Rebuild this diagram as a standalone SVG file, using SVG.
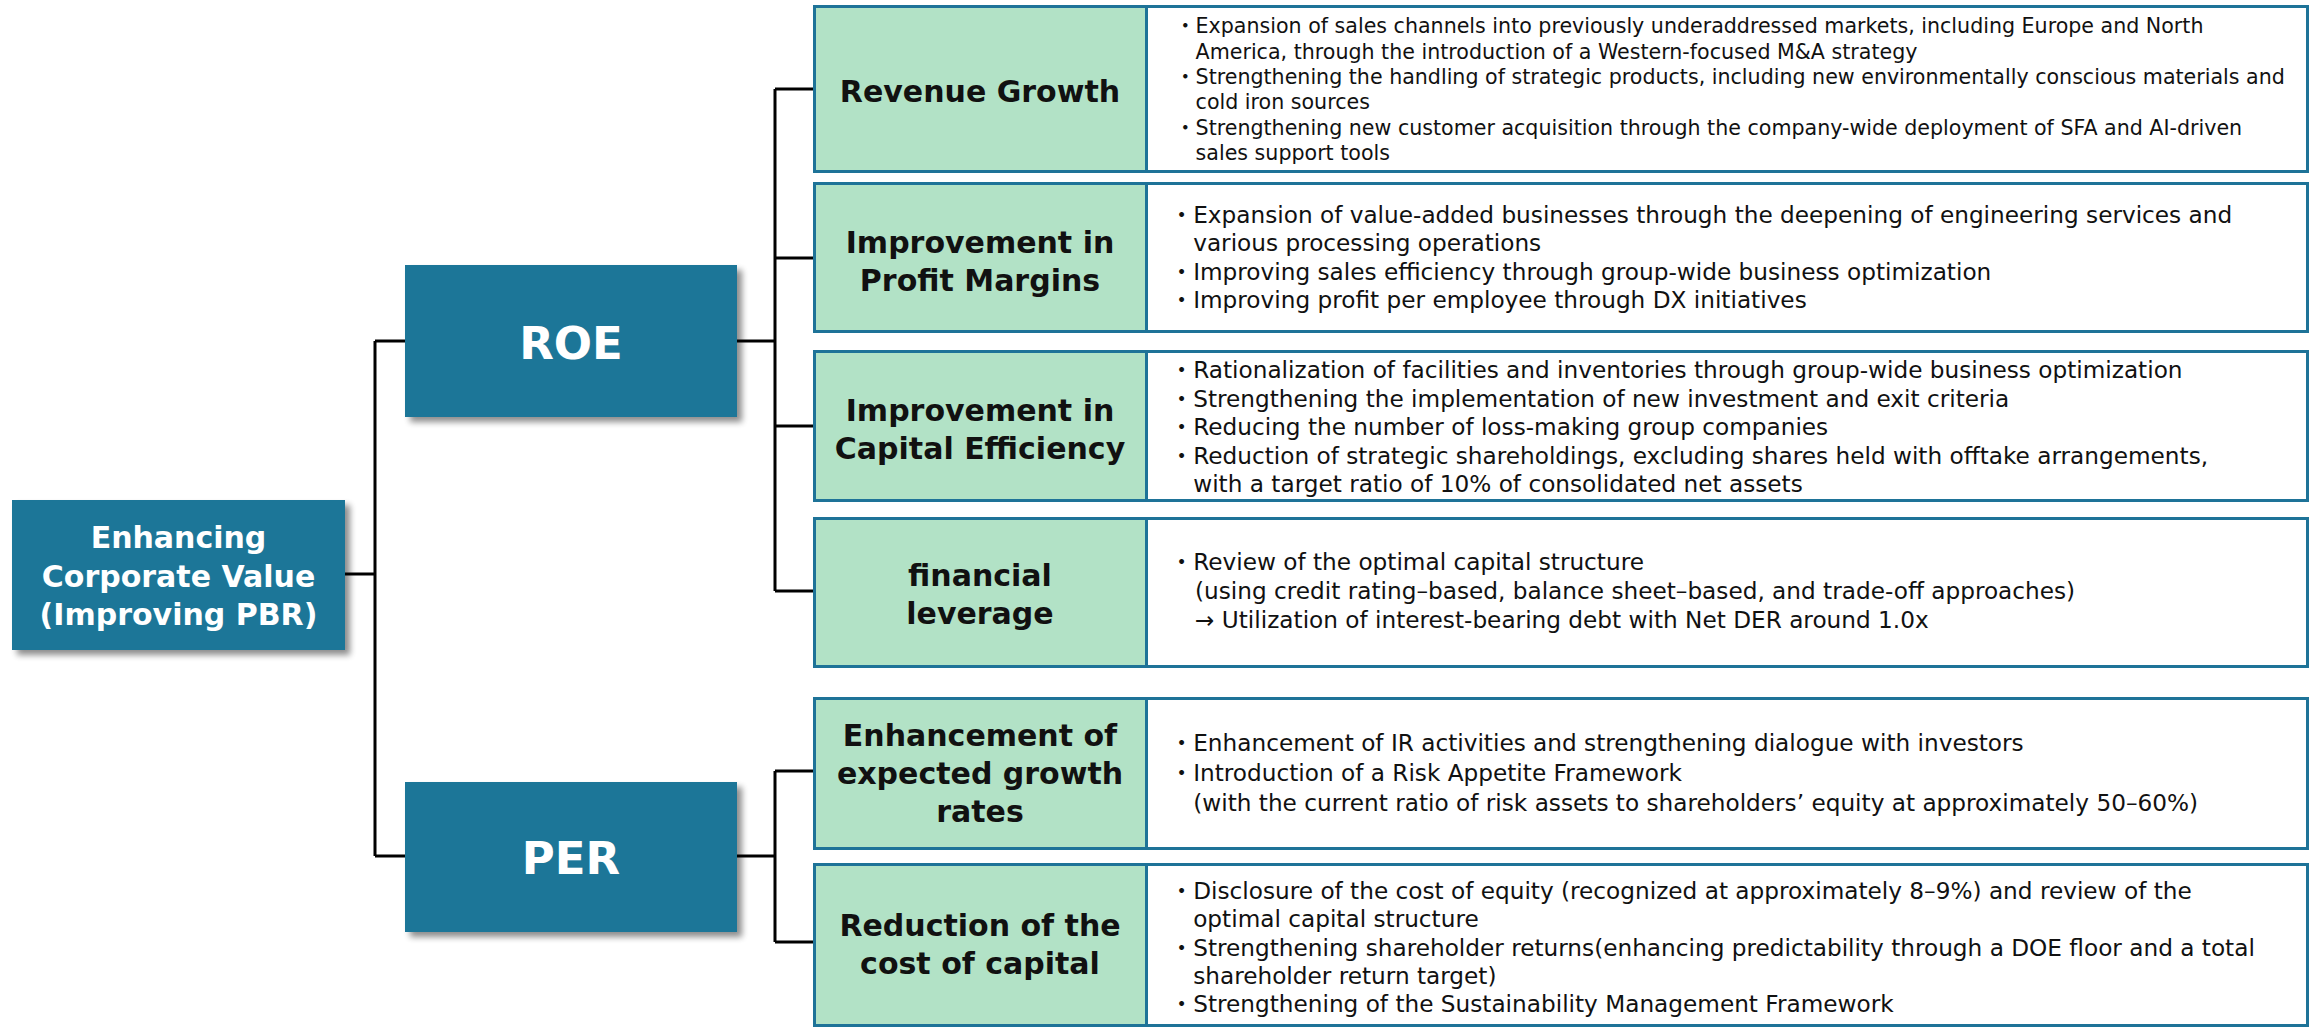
<svg xmlns="http://www.w3.org/2000/svg" width="2313" height="1029" viewBox="0 0 2313 1029">
<style>
.blue{fill:#1d7698}
.row{fill:#ffffff;stroke:#1e7398;stroke-width:3}
.cell{fill:#b2e2c6}
.div{stroke:#1e7398;stroke-width:3}
.conn{stroke:#000;stroke-width:3;fill:none}
.wt{font-family:"DejaVu Sans","Noto Sans",sans-serif;font-weight:bold;fill:#fff;text-anchor:middle}
.lb{font-family:"DejaVu Sans","Noto Sans",sans-serif;font-weight:bold;font-size:30px;fill:#111;text-anchor:middle}
.ds{font-family:"DejaVu Sans","Noto Sans CJK JP",sans-serif;font-size:23.2px;fill:#111}
.ds2{font-family:"DejaVu Sans","Noto Sans CJK JP",sans-serif;font-size:20.6px;fill:#111}
</style>
<defs>
<filter id="sh" x="-10%" y="-10%" width="130%" height="130%">
<feGaussianBlur in="SourceAlpha" stdDeviation="3"/>
<feOffset dx="5" dy="5" result="b"/>
<feComponentTransfer><feFuncA type="linear" slope="0.45"/></feComponentTransfer>
<feMerge><feMergeNode/><feMergeNode in="SourceGraphic"/></feMerge>
</filter>
</defs>
<rect width="2313" height="1029" fill="#fff"/>

<g id="connectors" class="conn">
<path d="M345 574H375M375 341V856M375 341H405M375 856H405"/>
<path d="M737 341H775M775 89V591M775 89H813M775 258H813M775 426H813M775 591H813"/>
<path d="M737 856H775M775 771V942M775 771H813M775 942H813"/>
</g>

<g id="n-enhancing">
<rect class="blue" x="12" y="500" width="333" height="150" filter="url(#sh)"/>
<text class="wt" font-size="30" x="178.5" y="548">Enhancing</text>
<text class="wt" font-size="30" x="178.5" y="587">Corporate Value</text>
<text class="wt" font-size="30" x="178.5" y="625">(Improving PBR)</text>
</g>
<g id="n-roe">
<rect class="blue" x="405" y="265" width="332" height="152" filter="url(#sh)"/>
<text class="wt" font-size="45" x="571" y="359">ROE</text>
</g>
<g id="n-per">
<rect class="blue" x="405" y="782" width="332" height="150" filter="url(#sh)"/>
<text class="wt" font-size="45" x="571" y="874">PER</text>
</g>

<g id="n-revenue">
<rect class="row" x="814.5" y="6.5" width="1493" height="165"/>
<rect class="cell" x="816" y="8" width="330" height="162"/>
<line class="div" x1="1146.5" y1="6.5" x2="1146.5" y2="171.5"/>
<text class="lb" x="980" y="102">Revenue Growth</text>
<text class="ds2" x="1175" y="33">・Expansion of sales channels into previously underaddressed markets, including Europe and North</text>
<text class="ds2" x="1195.6" y="58.5">America, through the introduction of a Western-focused M&amp;A strategy</text>
<text class="ds2" x="1175" y="84">・Strengthening the handling of strategic products, including new environmentally conscious materials and</text>
<text class="ds2" x="1195.6" y="109">cold iron sources</text>
<text class="ds2" x="1175" y="134.5">・Strengthening new customer acquisition through the company-wide deployment of SFA and AI-driven</text>
<text class="ds2" x="1195.6" y="160">sales support tools</text>
</g>

<g id="n-profit">
<rect class="row" x="814.5" y="183.5" width="1493" height="148"/>
<rect class="cell" x="816" y="185" width="330" height="145"/>
<line class="div" x1="1146.5" y1="183.5" x2="1146.5" y2="331.5"/>
<text class="lb" x="980" y="253">Improvement in</text>
<text class="lb" x="980" y="291">Profit Margins</text>
<text class="ds" x="1170" y="223">・Expansion of value-added businesses through the deepening of engineering services and</text>
<text class="ds" x="1193.2" y="251">various processing operations</text>
<text class="ds" x="1170" y="280">・Improving sales efficiency through group-wide business optimization</text>
<text class="ds" x="1170" y="308">・Improving profit per employee through DX initiatives</text>
</g>

<g id="n-capital">
<rect class="row" x="814.5" y="351.5" width="1493" height="149"/>
<rect class="cell" x="816" y="353" width="330" height="146"/>
<line class="div" x1="1146.5" y1="351.5" x2="1146.5" y2="500.5"/>
<text class="lb" x="980" y="421">Improvement in</text>
<text class="lb" x="980" y="459">Capital Efficiency</text>
<text class="ds" x="1170" y="378">・Rationalization of facilities and inventories through group-wide business optimization</text>
<text class="ds" x="1170" y="407">・Strengthening the implementation of new investment and exit criteria</text>
<text class="ds" x="1170" y="435">・Reducing the number of loss-making group companies</text>
<text class="ds" x="1170" y="464">・Reduction of strategic shareholdings, excluding shares held with offtake arrangements,</text>
<text class="ds" x="1193.2" y="492">with a target ratio of 10% of consolidated net assets</text>
</g>

<g id="n-leverage">
<rect class="row" x="814.5" y="518.5" width="1493" height="148"/>
<rect class="cell" x="816" y="520" width="330" height="145"/>
<line class="div" x1="1146.5" y1="518.5" x2="1146.5" y2="666.5"/>
<text class="lb" x="980" y="586">financial</text>
<text class="lb" x="980" y="624">leverage</text>
<text class="ds" x="1170" y="570">・Review of the optimal capital structure</text>
<text class="ds" x="1195" y="599">(using credit rating–based, balance sheet–based, and trade-off approaches)</text>
<text class="ds" x="1195" y="628">→ Utilization of interest-bearing debt with Net DER around 1.0x</text>
</g>

<g id="n-growth">
<rect class="row" x="814.5" y="698.5" width="1493" height="150"/>
<rect class="cell" x="816" y="700" width="330" height="147"/>
<line class="div" x1="1146.5" y1="698.5" x2="1146.5" y2="848.5"/>
<text class="lb" x="980" y="746">Enhancement of</text>
<text class="lb" x="980" y="784">expected growth</text>
<text class="lb" x="980" y="822">rates</text>
<text class="ds" x="1170" y="751">・Enhancement of IR activities and strengthening dialogue with investors</text>
<text class="ds" x="1170" y="781">・Introduction of a Risk Appetite Framework</text>
<text class="ds" x="1193.2" y="811">(with the current ratio of risk assets to shareholders’ equity at approximately 50–60%)</text>
</g>

<g id="n-cost">
<rect class="row" x="814.5" y="864.5" width="1493" height="161"/>
<rect class="cell" x="816" y="866" width="330" height="158"/>
<line class="div" x1="1146.5" y1="864.5" x2="1146.5" y2="1025.5"/>
<text class="lb" x="980" y="936">Reduction of the</text>
<text class="lb" x="980" y="974">cost of capital</text>
<text class="ds" x="1170" y="899">・Disclosure of the cost of equity (recognized at approximately 8–9%) and review of the</text>
<text class="ds" x="1193.2" y="927">optimal capital structure</text>
<text class="ds" x="1170" y="956">・Strengthening shareholder returns(enhancing predictability through a DOE floor and a total</text>
<text class="ds" x="1193.2" y="984">shareholder return target)</text>
<text class="ds" x="1170" y="1012">・Strengthening of the Sustainability Management Framework</text>
</g>
</svg>
